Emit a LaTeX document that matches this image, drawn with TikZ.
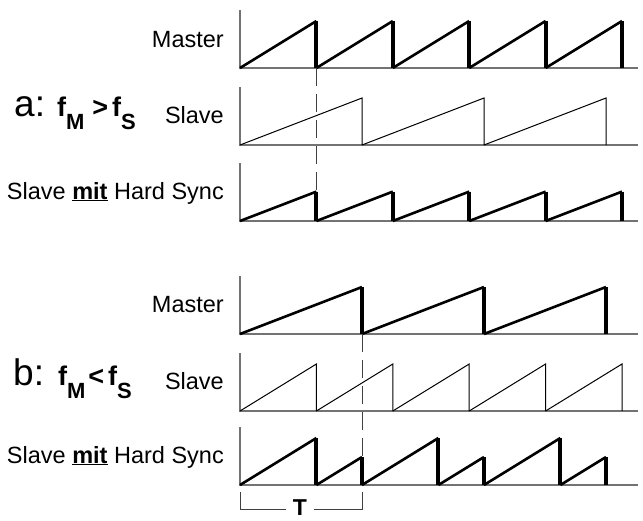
\documentclass[tikz,border=0pt]{standalone}
\usepackage{fontspec}
\setmainfont{Liberation Sans}
\usepackage{tikz}
\usetikzlibrary{positioning}
\newcommand{\signalaxes}[1]{
	\draw[axisline] (240, #1-58) -- (240, #1) -- (638, #1);
	}
\newcommand{\toothbold}[4]{
	\draw[rampline] (#1, #3) -- (#2, #3-#4);
	\draw[resetline] (#2, #3-#4) -- (#2, #3);
	}
\newcommand{\tooththin}[4]{
	\draw[slaveline] (#1, #3) -- (#2, #3-#4) -- (#2, #3);
	}
\newcommand{\freq}[1]{{\fontsize{27}{27}\selectfont\bfseries f}\raisebox{-13pt}{\fontsize{22}{22}\selectfont\bfseries #1}}

\begin{document}
\begin{tikzpicture}[x=1pt, y=-1pt,
	axisline/.style={black!55, line width=1.2pt},
	rampline/.style={line width=2.6pt},
	resetline/.style={line width=4pt},
	slaveline/.style={line width=1pt},
	syncline/.style={black!75, line width=0.9pt, dash pattern=on 18pt off 8pt},
	tag/.style={anchor=base east, inner sep=0pt, font=\fontsize{23.5}{27}\selectfont}]

	\useasboundingbox (0,0) rectangle (643,520);

	% a: master faster than slave
	\signalaxes{68}
	\signalaxes{145}
	\signalaxes{221}

	\toothbold{240}{316.4}{68}{47}
	\toothbold{316.4}{392.8}{68}{47}
	\toothbold{392.8}{469.2}{68}{47}
	\toothbold{469.2}{545.6}{68}{47}
	\toothbold{545.6}{622}{68}{47}

	\tooththin{240}{362}{145}{47}
	\tooththin{362}{484}{145}{47}
	\tooththin{484}{606}{145}{47}

	\toothbold{240}{316.4}{221}{29.4}
	\toothbold{316.4}{392.8}{221}{29.4}
	\toothbold{392.8}{469.2}{221}{29.4}
	\toothbold{469.2}{545.6}{221}{29.4}
	\toothbold{545.6}{622}{221}{29.4}

	\draw[syncline] (316.4, 68) -- (316.4, 191.6);

	\node[tag] (mastera) at (224, 47) {Master};
	\node[tag] (slavea) at (224, 123) {Slave};
	\node[tag] (synca) at (224, 199) {Slave \underline{\textbf{mit}} Hard Sync};
	\node[anchor=base west, inner sep=0pt] (casea) at (14, 116)
		{\fontsize{37}{37}\selectfont a:\hspace{12pt}\freq{M}\hspace{8pt}{\fontsize{27}{27}\selectfont\bfseries\textgreater}\hspace{4pt}\freq{S}};

	% b: master slower than slave
	\signalaxes{334}
	\signalaxes{411}
	\signalaxes{485}

	\toothbold{240}{362}{334}{47}
	\toothbold{362}{484}{334}{47}
	\toothbold{484}{606}{334}{47}

	\tooththin{240}{316.4}{411}{47}
	\tooththin{316.4}{392.8}{411}{47}
	\tooththin{392.8}{469.2}{411}{47}
	\tooththin{469.2}{545.6}{411}{47}
	\tooththin{545.6}{622}{411}{47}

	\toothbold{240}{316.4}{485}{47}
	\toothbold{316.4}{362}{485}{28}
	\toothbold{362}{438.4}{485}{47}
	\toothbold{438.4}{484}{485}{28}
	\toothbold{484}{560.4}{485}{47}
	\toothbold{560.4}{606}{485}{28}

	\draw[syncline] (362, 334) -- (362, 457);

	\node[tag] (masterb) at (224, 312) {Master};
	\node[tag] (slaveb) at (224, 389) {Slave};
	\node[tag] (syncb) at (224, 463) {Slave \underline{\textbf{mit}} Hard Sync};
	\node[anchor=base west, inner sep=0pt] (caseb) at (13, 385)
		{\fontsize{37}{37}\selectfont b:\hspace{14pt}\freq{M}\hspace{3pt}{\fontsize{27}{27}\selectfont\bfseries\textless}\hspace{4pt}\freq{S}};

	% period bracket
	\node[anchor=north, inner sep=0pt, font=\fontsize{23}{23}\selectfont\bfseries] (period) at (300, 499) {T};
	\coordinate (bracketl) at (240, 492);
	\coordinate (bracketr) at (362, 492);
	\draw[black!75, line width=1pt] (bracketl) -- (bracketl |- 0, 509) -- (286, 509);
	\draw[black!75, line width=1pt] (bracketr) -- (bracketr |- 0, 509) -- (314, 509);

\end{tikzpicture}
\end{document}
